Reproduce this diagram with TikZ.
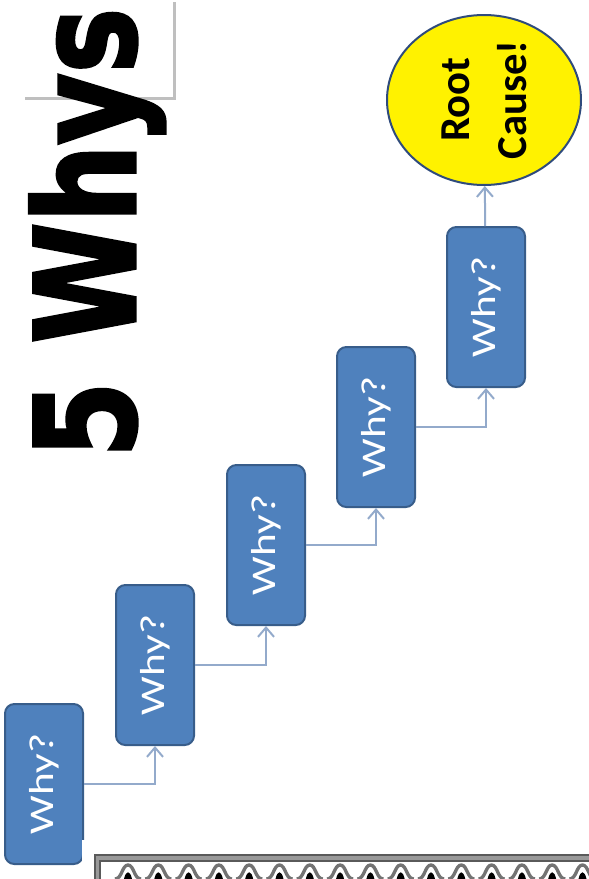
\documentclass[tikz,border=0pt]{standalone}
\usepackage{fontspec}
\setmainfont{Carlito}
\newfontfamily\titlefont[FakeBold=2.5]{DejaVu Sans Bold}
\usetikzlibrary{arrows.meta,shapes.geometric}
\definecolor{Blue}{HTML}{4F81BD}
\definecolor{BlueEdge}{HTML}{385D8A}
\definecolor{Link}{HTML}{93AACB}
\definecolor{Rim}{HTML}{2F4B7C}
\definecolor{Frame}{HTML}{5A5A5A}
\tikzset{
 why/.style={draw=BlueEdge,fill=Blue,line width=1.5pt,rounded corners=7pt,minimum width=58.5pt,minimum height=120pt,inner sep=0pt,text=white,font=\fontsize{26}{26}\selectfont},
 cause/.style={ellipse,rotate=90,draw=Rim,fill=yellow,line width=1.5pt,minimum width=127.5pt,minimum height=145.5pt,inner sep=0pt,align=center,font=\bfseries\fontsize{32}{43}\selectfont},
 arr/.style={-{Straight Barb[length=7pt,width=12pt]},line width=1.5pt,draw=Link},
 title/.style={rotate=90,anchor=base west,inner sep=0pt,font=\titlefont\fontsize{104}{104}\selectfont}
}
\begin{document}
\begin{tikzpicture}[x=0.75pt,y=-0.75pt]
\useasboundingbox (0,0) rectangle (589,879);
\fill[black!25] (25,2) rectangle (176,100);
\fill[white] (22,0) rectangle (173,97);
\node[title] (t) at (135,458) {\scalebox{0.79}[1]{5 Whys}};
\node[why] (a) at (44,784) {\rotatebox{90}{\scalebox{1.25}[1]{Why?}}};
\node[why] (b) at (155,665) {\rotatebox{90}{\scalebox{1.25}[1]{Why?}}};
\node[why] (c) at (266,545) {\rotatebox{90}{\scalebox{1.25}[1]{Why?}}};
\node[why] (d) at (376,427) {\rotatebox{90}{\scalebox{1.25}[1]{Why?}}};
\node[why] (e) at (486,307) {\rotatebox{90}{\scalebox{1.25}[1]{Why?}}};
\node[cause] (r) at (484,100) {Root\\Cause!};
\foreach \x/\y in {a/b,b/c,c/d,d/e} \draw[arr] (\x.east) -| (\y.south);
\draw[arr] (e) -- (r);
\fill[white] (82,840) rectangle (589,879);
\draw[black!40,line width=4pt] (97.5,879) |- (589,858);
\draw[Frame,line width=1.2pt] (95,879) |- (589,855);
\draw[Frame,line width=1.2pt] (100,879) |- (589,861);
\foreach \i in {0,...,15} {
  \pgfmathsetmacro\cx{128+30.3*\i}
  \draw[black!55,line width=2.5pt] (\cx-13,879) .. controls (\cx-6,879) and (\cx-6,865) .. (\cx,865) .. controls (\cx+6,865) and (\cx+6,879) .. (\cx+13,879);
  \fill[black] (\cx-4,879) .. controls (\cx-2,870) and (\cx+2,870) .. (\cx+4,879) -- cycle;
}
\end{tikzpicture}
\end{document}
